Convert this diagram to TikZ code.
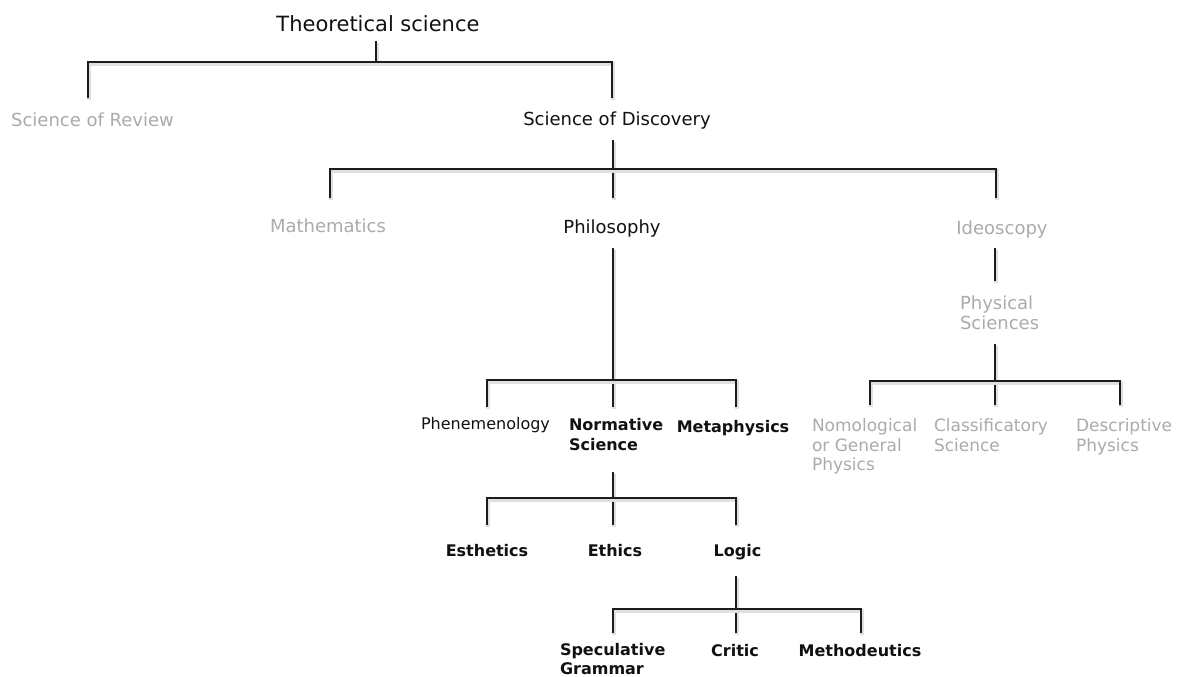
\documentclass[tikz,border=0pt]{standalone}
\usepackage{fontspec}
\setmainfont{DejaVu Sans}
\definecolor{lgray}{HTML}{ABABAB}
\definecolor{ink}{HTML}{111111}
\definecolor{lnc}{HTML}{1C1C1C}
\begin{document}
\begin{tikzpicture}[x=1pt,y=-1pt,
  every node/.style={inner sep=0pt, outer sep=0pt},
  title/.style={text=ink, font=\fontsize{21}{24}\selectfont, anchor=base},
  blk/.style={text=ink, font=\fontsize{18}{20}\selectfont, anchor=base},
  gr/.style={text=lgray, font=\fontsize{18}{20}\selectfont, anchor=base},
  grs/.style={text=lgray, font=\fontsize{17}{19.5}\selectfont, align=left, anchor=north west},
  grm/.style={text=lgray, font=\fontsize{18}{20}\selectfont, align=left, anchor=north west},
  reg/.style={text=ink, font=\fontsize{16}{20}\selectfont, anchor=base},
  bld/.style={text=ink, font=\fontsize{16}{20}\selectfont\bfseries, anchor=base},
  bldm/.style={text=ink, font=\fontsize{16}{20}\selectfont\bfseries, align=left, anchor=north west},
  bldmt/.style={text=ink, font=\fontsize{16}{19}\selectfont\bfseries, align=left, anchor=north west},
  ln/.style={draw=lnc, line width=2.5pt, line join=miter,
    preaction={draw=black!12, line width=4pt, transform canvas={shift={(1pt,-1.6pt)}}}}
]
\useasboundingbox[fill=white] (0,0) rectangle (1181,677);

% nodes
\node[title] (ts) at (378,31.5) {Theoretical science};
\node[gr] (sor) at (92.5,126.5) {Science of Review};
\node[blk] (sod) at (617,125.5) {Science of Discovery};
\node[gr] (math) at (328,232.5) {Mathematics};
\node[blk] (phil) at (612,233.5) {Philosophy};
\node[gr] (ideo) at (1002,234.5) {Ideoscopy};
\node[grm] (phys) at (960,295.5) {Physical\\Sciences};
\node[reg] (phen) at (485.5,429) {Phenemenology};
\node[bldm] (norm) at (569,418.5) {Normative\\Science};
\node[bld] (meta) at (733,432) {Metaphysics};
\node[grs] (nomo) at (812,419) {Nomological\\or General\\Physics};
\node[grs] (clas) at (934,419) {Classificatory\\Science};
\node[grs] (desc) at (1076,419) {Descriptive\\Physics};
\node[bld] (esth) at (487,556) {Esthetics};
\node[bld] (eth) at (615,556) {Ethics};
\node[bld] (logic) at (737.5,556) {Logic};
\node[bldmt] (spec) at (560,643.5) {Speculative\\Grammar};
\node[bld] (crit) at (735,656) {Critic};
\node[bld] (meth) at (860,656) {Methodeutics};

% connector end points
\coordinate (ts-out) at (376,41);   \coordinate (ts-bus) at (376,62);
\coordinate (sor-in) at (88,98);    \coordinate (sod-in) at (612,98);
\coordinate (sod-out) at (613,140); \coordinate (sod-bus) at (613,169);
\coordinate (math-in) at (330,198); \coordinate (phil-in) at (613,198);
\coordinate (ideo-in) at (996,198);
\coordinate (phil-out) at (613,248); \coordinate (phil-bus) at (613,380);
\coordinate (phen-in) at (487,407); \coordinate (norm-in) at (613,407);
\coordinate (meta-in) at (736,407);
\coordinate (norm-out) at (613,472); \coordinate (norm-bus) at (613,498);
\coordinate (esth-in) at (487,525); \coordinate (eth-in) at (613,525);
\coordinate (logic-in) at (736,525);
\coordinate (logic-out) at (736,576); \coordinate (logic-bus) at (736,609);
\coordinate (spec-in) at (613,633); \coordinate (crit-in) at (736,633);
\coordinate (meth-in) at (861,633);
\coordinate (ideo-out) at (995,248); \coordinate (phys-in) at (995,281);
\coordinate (phys-out) at (995,344); \coordinate (phys-bus) at (995,381);
\coordinate (nomo-in) at (870,405); \coordinate (clas-in) at (995,405);
\coordinate (desc-in) at (1120,405);

% connectors
\draw[ln] (ts-out) -- (ts-bus);
\draw[ln] (sor-in) |- (ts-bus) -| (sod-in);
\draw[ln] (sod-out) -- (phil-in);
\draw[ln] (math-in) |- (sod-bus) -| (ideo-in);
\draw[ln] (phil-out) -- (norm-in);
\draw[ln] (phen-in) |- (phil-bus) -| (meta-in);
\draw[ln] (norm-out) -- (eth-in);
\draw[ln] (esth-in) |- (norm-bus) -| (logic-in);
\draw[ln] (logic-out) -- (crit-in);
\draw[ln] (spec-in) |- (logic-bus) -| (meth-in);
\draw[ln] (ideo-out) -- (phys-in);
\draw[ln] (phys-out) -- (clas-in);
\draw[ln] (nomo-in) |- (phys-bus) -| (desc-in);
\end{tikzpicture}
\end{document}
